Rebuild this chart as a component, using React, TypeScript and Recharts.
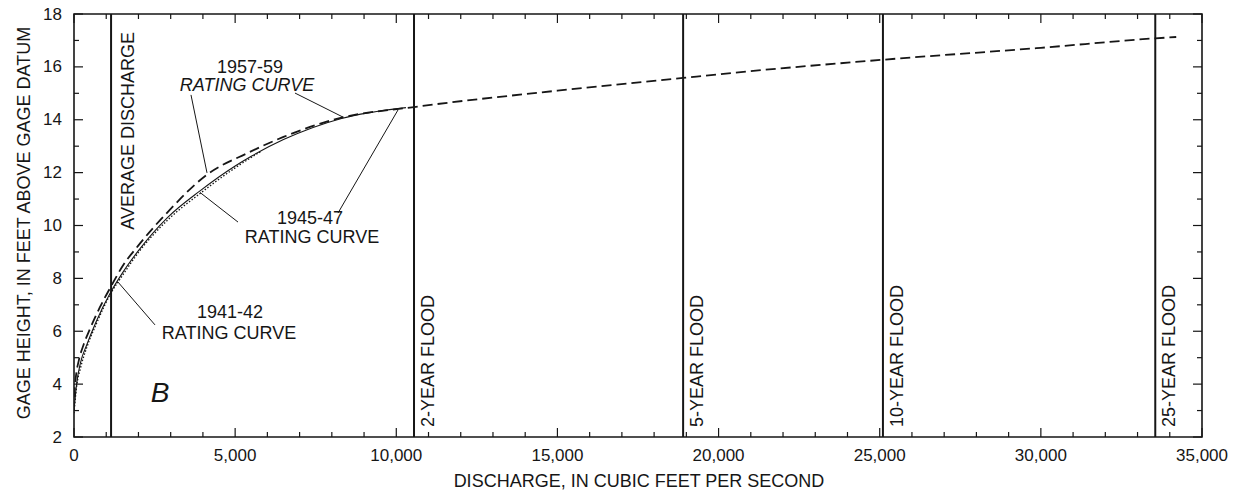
import React from 'react';
import { LineChart, Line, XAxis, YAxis, ReferenceLine, ReferenceDot, ReferenceArea } from 'recharts';

const FONT = '"Liberation Sans", Arial, Helvetica, sans-serif';
const INK = '#161616';

// Axis ticks
const xMajorTicks = [0, 5000, 10000, 15000, 20000, 25000, 30000, 35000];
const xAllTicks = [0, 1000, 2000, 3000, 4000, 5000, 6000, 7000, 8000, 9000, 10000, 11000, 12000, 13000, 14000, 15000, 16000, 17000, 18000, 19000, 20000, 21000, 22000, 23000, 24000, 25000, 26000, 27000, 28000, 29000, 30000, 31000, 32000, 33000, 34000, 35000];
const yMajorTicks = [2, 4, 6, 8, 10, 12, 14, 16, 18];
const yAllTicks = [2, 3, 4, 5, 6, 7, 8, 9, 10, 11, 12, 13, 14, 15, 16, 17, 18];

// Rating curves (discharge q, gage height h)
const curve1957 = [
  { q: 0, h: 3.5 }, { q: 60, h: 4.3 }, { q: 150, h: 4.9 }, { q: 300, h: 5.5 }, { q: 500, h: 6.1 },
  { q: 800, h: 6.9 }, { q: 1150, h: 7.7 }, { q: 1500, h: 8.45 }, { q: 2000, h: 9.25 }, { q: 2900, h: 10.5 },
  { q: 4100, h: 11.9 }, { q: 5400, h: 12.75 }, { q: 6500, h: 13.35 }, { q: 8300, h: 14.08 }, { q: 10550, h: 14.48 },
  { q: 15000, h: 15.1 }, { q: 18900, h: 15.58 }, { q: 20000, h: 15.72 }, { q: 25100, h: 16.27 }, { q: 30000, h: 16.72 },
  { q: 33550, h: 17.08 }, { q: 34200, h: 17.13 },
];
const curve1945 = [
  { q: 0, h: 3.0 }, { q: 80, h: 4.0 }, { q: 200, h: 4.8 }, { q: 400, h: 5.5 }, { q: 700, h: 6.4 },
  { q: 1150, h: 7.5 }, { q: 1500, h: 8.2 }, { q: 2000, h: 9.05 }, { q: 2900, h: 10.3 }, { q: 3900, h: 11.3 },
  { q: 5000, h: 12.25 }, { q: 5500, h: 12.62 }, { q: 6500, h: 13.25 }, { q: 8300, h: 14.05 }, { q: 10300, h: 14.46 },
];
const curve1941 = [
  { q: 0, h: 2.9 }, { q: 80, h: 3.9 }, { q: 200, h: 4.6 }, { q: 400, h: 5.4 }, { q: 700, h: 6.3 },
  { q: 1150, h: 7.45 }, { q: 1500, h: 8.1 }, { q: 2000, h: 8.98 }, { q: 2900, h: 10.2 }, { q: 3900, h: 11.2 },
  { q: 5000, h: 12.18 }, { q: 5800, h: 12.8 },
];

// Vertical reference discharges
const markerQ = [1150, 10550, 18900, 25100, 33550];
const markerText = ['AVERAGE DISCHARGE', '2-YEAR FLOOD', '5-YEAR FLOOD', '10-YEAR FLOOD', '25-YEAR FLOOD'];

// Annotation texts (data coords of text centre)
const noteText = ['1957-59', 'RATING CURVE', '1945-47', 'RATING CURVE', '1941-42', 'RATING CURVE', 'B'];
const noteQ = [5461, 5368, 7323, 7385, 4840, 4809, 2668];
const noteH = [16.0, 15.31, 10.28, 9.57, 6.73, 5.93, 3.7];

// Leader lines [q1, h1, q2, h2]
const leaders = [
  [3630, 14.94, 4127, 11.99],
  [6857, 15.01, 8347, 14.1],
  [8191, 10.47, 10053, 14.37],
  [5089, 10.13, 3910, 11.25],
  [2513, 6.24, 1365, 7.86],
];

const X_MIN = 0, X_MAX = 35000, Y_MIN = 2, Y_MAX = 18;
const PLOT_W = 1128, PLOT_H = 423;
// tick lengths converted from pixels to data units
const pxToH = (px: number) => (px * (Y_MAX - Y_MIN)) / PLOT_H;
const pxToQ = (px: number) => (px * (X_MAX - X_MIN)) / PLOT_W;

const fmt = (v: number) => v.toLocaleString('en-US');

const BottomTick = (props: any) => {
  const { x, y, payload } = props;
  const v = payload.value;
  if (!xMajorTicks.includes(v)) return <g />;
  return (
    <text x={x} y={y + 24} textAnchor="middle" fontSize={17} fontFamily={FONT} fill={INK}>{fmt(v)}</text>
  );
};

const LeftTick = (props: any) => {
  const { x, y, payload } = props;
  const v = payload.value;
  if (!yMajorTicks.includes(v)) return <g />;
  return (
    <text x={x - 12} y={y} textAnchor="end" dominantBaseline="central" fontSize={17} fontFamily={FONT} fill={INK}>{v}</text>
  );
};

const VLabel = (props: any) => {
  const { viewBox, text, top } = props;
  if (!viewBox) return null;
  const x = viewBox.x + (top ? 17 : 14);
  const y = top ? viewBox.y + 18 : viewBox.y + viewBox.height - 10;
  return (
    <text
      transform={`translate(${x},${y}) rotate(-90)`}
      textAnchor={top ? 'end' : 'start'}
      dominantBaseline="central"
      fontSize={18}
      fontFamily={FONT}
      fill={INK}
    >
      {text}
    </text>
  );
};

const noteShape = (i: number) => (p: any) => {
  const isB = noteText[i] === 'B';
  const italic = isB || i === 1;
  return (
    <text
      x={p.cx}
      y={p.cy}
      textAnchor="middle"
      dominantBaseline="central"
      fontSize={isB ? 28 : 18}
      fontStyle={italic ? 'italic' : 'normal'}
      fontFamily={FONT}
      fill={INK}
    >
      {noteText[i]}
    </text>
  );
};

const tickSegs: { a: { x: number; y: number }; b: { x: number; y: number } }[] = [];
xAllTicks.forEach((q) => {
  const len = pxToH(xMajorTicks.includes(q) ? 9 : 5);
  tickSegs.push({ a: { x: q, y: Y_MIN }, b: { x: q, y: Y_MIN + len } });
  tickSegs.push({ a: { x: q, y: Y_MAX }, b: { x: q, y: Y_MAX - len } });
});
yAllTicks.forEach((h) => {
  const len = pxToQ(yMajorTicks.includes(h) ? 9 : 5);
  tickSegs.push({ a: { x: X_MIN, y: h }, b: { x: X_MIN + len, y: h } });
  tickSegs.push({ a: { x: X_MAX, y: h }, b: { x: X_MAX - len, y: h } });
});

export default function App() {
  return (
    <div style={{ position: 'absolute', left: 0, top: 0, width: 1234, height: 498, background: '#fff' }}>
      <LineChart width={1234} height={498} margin={{ top: 14, right: 32, bottom: 0, left: 0 }}>
        <XAxis
          xAxisId="b"
          type="number"
          dataKey="q"
          domain={[X_MIN, X_MAX]}
          ticks={xAllTicks}
          interval={0}
          height={61}
          tickSize={0}
          tickMargin={0}
          tickLine={false}
          axisLine={false}
          tick={<BottomTick />}
          allowDataOverflow
        />
        <YAxis
          yAxisId="l"
          type="number"
          domain={[Y_MIN, Y_MAX]}
          ticks={yAllTicks}
          interval={0}
          width={74}
          tickSize={0}
          tickMargin={0}
          tickLine={false}
          axisLine={false}
          tick={<LeftTick />}
          allowDataOverflow
        />

        <ReferenceArea
          xAxisId="b"
          yAxisId="l"
          x1={X_MIN}
          x2={X_MAX}
          y1={Y_MIN}
          y2={Y_MAX}
          fill="none"
          fillOpacity={0}
          stroke={INK}
          strokeWidth={1.6}
          ifOverflow="visible"
        />

        {tickSegs.map((s, i) => (
          <ReferenceLine
            key={'t' + i}
            xAxisId="b"
            yAxisId="l"
            segment={[s.a, s.b]}
            stroke={INK}
            strokeWidth={1.2}
            ifOverflow="visible"
          />
        ))}

        {markerQ.map((q, i) => (
          <ReferenceLine
            key={'m' + i}
            xAxisId="b"
            yAxisId="l"
            x={q}
            stroke={INK}
            strokeWidth={2}
            label={<VLabel text={markerText[i]} top={i === 0} />}
          />
        ))}

        {leaders.map((s, i) => (
          <ReferenceLine
            key={'ld' + i}
            xAxisId="b"
            yAxisId="l"
            segment={[{ x: s[0], y: s[1] }, { x: s[2], y: s[3] }]}
            stroke={INK}
            strokeWidth={1}
          />
        ))}

        {noteText.map((t, i) => (
          <ReferenceDot
            key={'n' + i}
            xAxisId="b"
            yAxisId="l"
            x={noteQ[i]}
            y={noteH[i]}
            r={0}
            shape={noteShape(i)}
          />
        ))}

        <Line
          xAxisId="b"
          yAxisId="l"
          data={curve1941}
          dataKey="h"
          type="monotone"
          stroke={INK}
          strokeWidth={1.3}
          strokeDasharray="1.5 1.8"
          dot={false}
          isAnimationActive={false}
        />
        <Line
          xAxisId="b"
          yAxisId="l"
          data={curve1945}
          dataKey="h"
          type="monotone"
          stroke={INK}
          strokeWidth={1.1}
          dot={false}
          isAnimationActive={false}
        />
        <Line
          xAxisId="b"
          yAxisId="l"
          data={curve1957}
          dataKey="h"
          type="monotone"
          stroke={INK}
          strokeWidth={1.8}
          strokeDasharray="10 5"
          dot={false}
          isAnimationActive={false}
        />

        <text x={639} y={481} textAnchor="middle" dominantBaseline="central" fontSize={18} fontFamily={FONT} fill={INK}>
          DISCHARGE, IN CUBIC FEET PER SECOND
        </text>
        <text transform="translate(24,223) rotate(-90)" textAnchor="middle" dominantBaseline="central" fontSize={18} fontFamily={FONT} fill={INK}>
          GAGE HEIGHT, IN FEET ABOVE GAGE DATUM
        </text>
      </LineChart>
    </div>
  );
}
